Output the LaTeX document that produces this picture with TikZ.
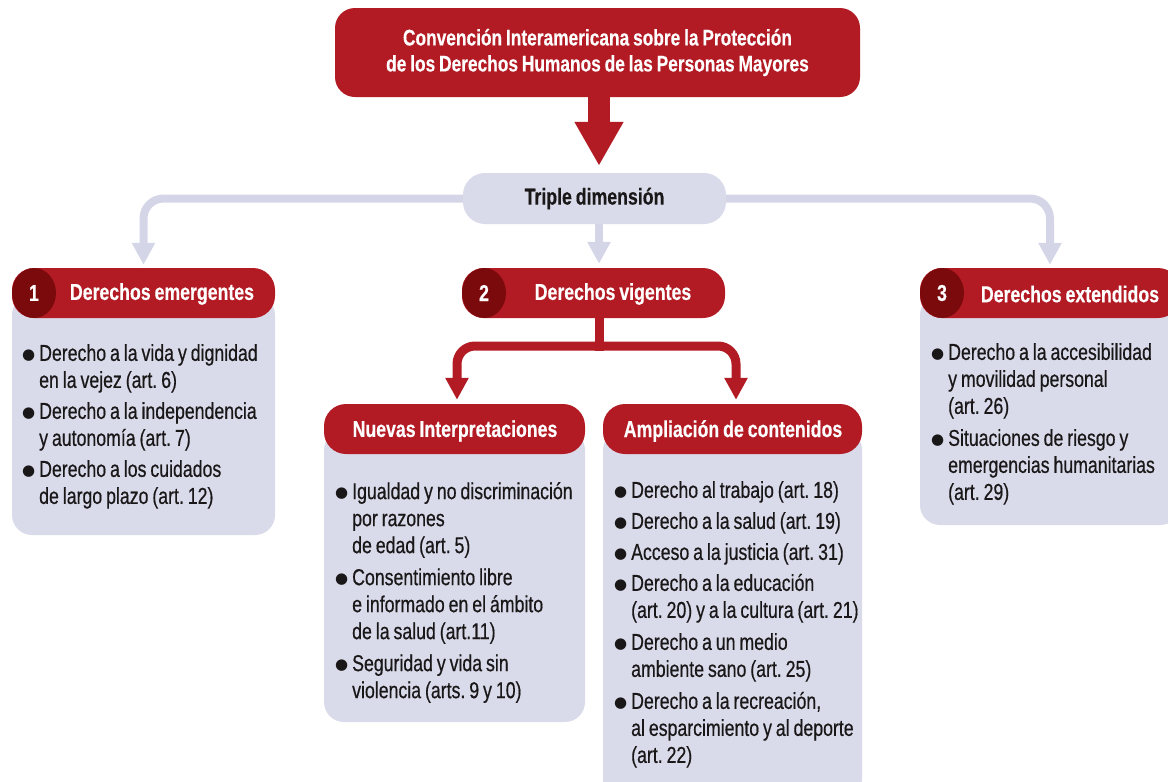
\documentclass[tikz,border=0pt]{standalone}
\usepackage{fontspec}
\setmainfont{Liberation Sans}[FakeStretch=0.77, WordSpace=0.8, UprightFeatures={FakeBold=0.5}, BoldFeatures={FakeBold=0.4}]
\newfontfamily\symfont{DejaVu Sans}
\usetikzlibrary{arrows.meta,shapes.geometric}
\definecolor{cred}{HTML}{B31B24}
\definecolor{cdark}{HTML}{7B0A0C}
\definecolor{clav}{HTML}{D9DAEA}
\definecolor{cline}{HTML}{D4D6E8}
\definecolor{ctext}{HTML}{1A1718}
\newcommand\bul{\makebox[17pt][l]{\raisebox{1.5pt}{\symfont\fontsize{15}{15}\selectfont ●}}}
\newcommand\ind{\hspace*{17pt}}
\frenchspacing
\begin{document}
\begin{tikzpicture}[x=1pt,y=-1pt,
  hdr/.style={fill=cred, rounded corners=22pt, minimum height=50pt, inner sep=0pt},
  bodybox/.style={fill=clav, rounded corners=20pt, inner sep=0pt},
  numdot/.style={ellipse, fill=cdark, minimum width=44pt, minimum height=50pt, inner sep=0pt, text=white, font=\bfseries\fontsize{23}{25}\selectfont},
  hlabel/.style={text=white, inner sep=0pt, font=\bfseries\fontsize{23}{25}\selectfont},
  items/.style={anchor=north west, inner sep=0pt, align=left, text=ctext, font=\fontsize{23}{27}\selectfont},
  grayarrow/.style={draw=cline, line width=8pt, rounded corners=20pt, -{Triangle[width=22pt,length=22pt]}},
  redarrow/.style={draw=cred, line width=9pt, rounded corners=18pt, -{Triangle[width=22pt,length=22pt]}},
  bigarrow/.style={draw=cred, line width=22pt, -{Triangle[width=46pt,length=44pt]}}]
\useasboundingbox (0,0) rectangle (1168,782);
\clip (0,0) rectangle (1168,782);

% title
\node[fill=cred, rounded corners=20pt, minimum width=525pt, minimum height=89pt, inner sep=0pt,
  text=white, align=center, font=\bfseries\fontsize{22.5}{26}\selectfont] (title) at (597.5,52.5)
  {Convención Interamericana sobre la Protección\\de los Derechos Humanos de las Personas Mayores};

% triple
\node[fill=clav, rounded corners=22pt, minimum width=263pt, minimum height=51pt, inner sep=0pt,
  text=ctext, font=\bfseries\fontsize{23}{25}\selectfont] (triple) at (594.5,198.5) {Triple dimensión};

% bodies
\node[bodybox, minimum width=263pt, minimum height=240pt] (b1) at (143.5,415) {};
\node[bodybox, minimum width=261pt, minimum height=292pt] (bni) at (454.5,576) {};
\node[bodybox, minimum width=259pt, minimum height=370pt] (bac) at (732.5,615) {};
\node[bodybox, minimum width=260pt, minimum height=230pt] (b3) at (1050,410) {};

% headers
\node[hdr, minimum width=263pt] (h1) at (143.5,293) {};
\node[hdr, minimum width=263pt] (h2) at (593.5,293) {};
\node[hdr, minimum width=260pt] (h3) at (1050,293) {};
\node[hdr, minimum width=261pt] (hni) at (454.5,429) {};
\node[hdr, minimum width=259pt] (hac) at (732.5,429) {};

\node[numdot] (n1) at (34,293) {1};
\node[numdot] (n2) at (484,293) {2};
\node[numdot] (n3) at (942,293) {3};

\node[hlabel] (l1) at (162,294) {Derechos emergentes};
\node[hlabel] (l2) at (613,294) {Derechos vigentes};
\node[hlabel] (l3) at (1070,294) {Derechos extendidos};
\node[hlabel] (lni) at (455,431) {Nuevas Interpretaciones};
\node[hlabel] (lac) at (733,431) {Ampliación de contenidos};

% items
\node[items] (t1) at (22,344) {\bul Derecho a la vida y dignidad\\ \ind en la vejez (art. 6)\\[4pt]
  \bul Derecho a la independencia\\ \ind y autonomía (art. 7)\\[4pt]
  \bul Derecho a los cuidados\\ \ind de largo plazo (art. 12)};
\node[items] (tni) at (335,482) {\bul Igualdad y no discriminación\\ \ind por razones\\ \ind de edad (art. 5)\\[5pt]
  \bul Consentimiento libre\\ \ind e informado en el ámbito\\ \ind de la salud (art.11)\\[5pt]
  \bul Seguridad y vida sin\\ \ind violencia (arts. 9 y 10)};
\node[items] (tac) at (614,481) {\bul Derecho al trabajo (art. 18)\\[4pt]
  \bul Derecho a la salud (art. 19)\\[4pt]
  \bul Acceso a la justicia (art. 31)\\[4pt]
  \bul Derecho a la educación\\ \ind (art. 20) y a la cultura (art. 21)\\[5pt]
  \bul Derecho a un medio\\ \ind ambiente sano (art. 25)\\[5pt]
  \bul Derecho a la recreación,\\ \ind al esparcimiento y al deporte\\ \ind (art. 22)};
\node[items] (t3) at (931,343) {\bul Derecho a la accesibilidad\\ \ind y movilidad personal\\ \ind (art. 26)\\[5pt]
  \bul Situaciones de riesgo y\\ \ind emergencias humanitarias\\ \ind (art. 29)};

% connectors
\coordinate (split) at (599,346);
\draw[bigarrow, shorten >=7pt] (title.south -| 599,0) -- (triple.north -| 599,0);
\draw[grayarrow, shorten >=3pt] (triple.west) -| (h1.north);
\draw[grayarrow, shorten >=3pt] (triple.east) -| (h3.north);
\draw[grayarrow, shorten >=4pt] (triple.south -| 599,0) -- (h2.north -| 599,0);
\draw[draw=cred, line width=9pt] (h2.south -| split) -- ([yshift=-4.5pt]split);
\draw[redarrow, shorten >=4pt] ([xshift=4.5pt]split) -| (hni.north -| 457,0);
\draw[redarrow, shorten >=4pt] ([xshift=-4.5pt]split) -| (hac.north -| 736,0);
\end{tikzpicture}
\end{document}
